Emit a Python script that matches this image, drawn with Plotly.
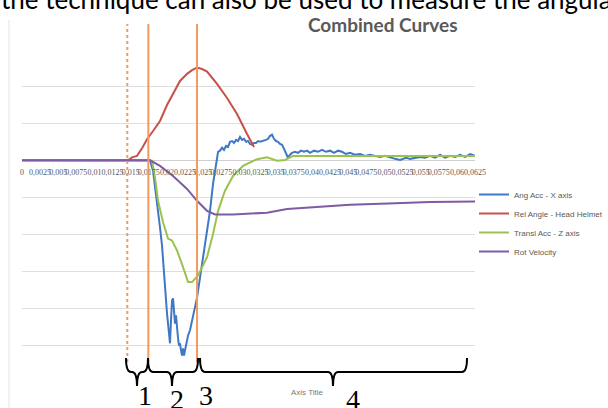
import plotly.graph_objects as go

# ---------------- data (time in seconds) ----------------
t_ang = [0.0, 0.01766, 0.01808, 0.01835, 0.01863, 0.01904, 0.01932, 0.01946, 0.01973, 0.02001,
         0.02015, 0.02029, 0.02042, 0.02056, 0.0207, 0.02084, 0.02098, 0.02111, 0.02125, 0.02139,
         0.02153, 0.02166, 0.0218, 0.02194, 0.02208, 0.02222, 0.02235, 0.02249, 0.02263, 0.02277,
         0.02291, 0.02318, 0.02346, 0.0236, 0.02387, 0.02415, 0.02456, 0.02498, 0.02553, 0.02594,
         0.02636, 0.02663, 0.02677, 0.02691, 0.02705, 0.02732, 0.0276, 0.02787, 0.02815, 0.02842,
         0.0287, 0.02898, 0.02925, 0.02953, 0.0298, 0.03008, 0.03036, 0.03063, 0.03091, 0.03118,
         0.03146, 0.03174, 0.03201, 0.03229, 0.03256, 0.03284, 0.03326, 0.03367, 0.03395, 0.03422,
         0.0345, 0.03477, 0.03505, 0.03532, 0.0356, 0.03588, 0.03615, 0.03643, 0.0367, 0.03698,
         0.03726, 0.03767, 0.03808, 0.0385, 0.03891, 0.03933, 0.03974, 0.04029, 0.04084, 0.04139,
         0.04195, 0.0425, 0.04305, 0.0436, 0.04415, 0.0447, 0.04526, 0.04595, 0.04664, 0.04733,
         0.04802, 0.04871, 0.0494, 0.05009, 0.05078, 0.05147, 0.05216, 0.05257, 0.05299, 0.05354,
         0.05423, 0.05492, 0.05561, 0.0563, 0.05699, 0.05768, 0.05837, 0.05906, 0.05975, 0.06044,
         0.06113, 0.06182, 0.06251]
ang_acc = [0.0, 0.0, -0.28, -0.69, -1.09, -1.81, -2.30, -2.70, -3.51, -4.13,
           -4.40, -4.72, -4.93, -4.31, -3.78, -3.72, -4.05, -4.40, -4.18, -4.58,
           -4.80, -4.99, -4.93, -5.12, -5.26, -5.07, -5.26, -5.12, -4.99, -4.93,
           -4.72, -4.58, -4.31, -4.13, -3.91, -3.70, -3.16, -2.62, -1.98, -1.36,
           -0.63, -0.28, -0.01, 0.09, 0.23, 0.26, 0.34, 0.28, 0.39, 0.36,
           0.50, 0.52, 0.47, 0.55, 0.52, 0.63, 0.55, 0.58, 0.50, 0.52,
           0.44, 0.42, 0.47, 0.47, 0.52, 0.50, 0.52, 0.55, 0.58, 0.66,
           0.69, 0.58, 0.52, 0.50, 0.44, 0.42, 0.31, 0.17, 0.07, 0.15,
           0.20, 0.23, 0.20, 0.26, 0.23, 0.26, 0.20, 0.26, 0.23, 0.28,
           0.23, 0.26, 0.20, 0.26, 0.23, 0.17, 0.20, 0.15, 0.17, 0.12,
           0.15, 0.12, 0.09, 0.12, 0.07, 0.04, 0.01, 0.04, 0.07, 0.04,
           0.07, 0.09, 0.07, 0.12, 0.07, 0.15, 0.07, 0.12, 0.09, 0.15,
           0.09, 0.17, 0.12]

t_rel = [0.0, 0.01463, 0.01518, 0.01587, 0.0166, 0.01725, 0.01808, 0.01904, 0.02001, 0.02084,
         0.0218, 0.02277, 0.02346, 0.02415, 0.02484, 0.02553, 0.02622, 0.02691, 0.02829, 0.02967,
         0.03105, 0.03202]
rel_angle = [0.0, 0.0, 0.08, 0.12, 0.34, 0.57, 0.79, 1.06, 1.49, 1.81,
             2.14, 2.33, 2.43, 2.50, 2.46, 2.39, 2.24, 2.06, 1.68, 1.25,
             0.71, 0.36]

t_transl = [0.0, 0.01766, 0.01794, 0.01835, 0.01877, 0.01946, 0.02015, 0.0207, 0.02139, 0.02222,
            0.02291, 0.02346, 0.02429, 0.02553, 0.02636, 0.02705, 0.02801, 0.02912, 0.0305, 0.03243,
            0.03381, 0.03519, 0.03629, 0.0374, 0.0401, 0.0456, 0.051, 0.0565, 0.0625]
transl_acc = [0.0, 0.0, -0.01, -0.46, -1.09, -1.67, -2.11, -2.16, -2.43, -2.88,
              -3.28, -3.28, -3.10, -2.61, -1.98, -1.36, -0.82, -0.42, -0.15, 0.03,
              0.08, -0.01, 0.01, 0.12, 0.12, 0.13, 0.12, 0.11, 0.12]

t_rot = [0.0, 0.01766, 0.01904, 0.02084, 0.02277, 0.02415, 0.02553, 0.02663, 0.02912, 0.03381,
         0.03657, 0.04071, 0.04526, 0.05051, 0.0563, 0.0625]
rot_velocity = [0.0, 0.0, -0.15, -0.42, -0.77, -1.09, -1.36, -1.46, -1.46, -1.41,
                -1.31, -1.25, -1.20, -1.16, -1.12, -1.11]

series_names = ["Ang Acc - X axis", "Rel Angle - Head Helmet", "Transl Acc - Z axis", "Rot Velocity"]
series_colors = ["#3f78c3", "#c8504a", "#9bc24f", "#7f5ba6"]

tick_vals = [i * 0.0025 for i in range(26)]
tick_text = ["0"] + [("%g" % v).replace(".", ",") for v in tick_vals[1:]]

phase_bounds = [0.01453, 0.01743, 0.02415]
phase_labels = ["1", "2", "3", "4"]

# ---------------- figure ----------------
W, H = 608, 408
L, R, T, B = 22, 133, 49, 25
PW, PH = W - L - R, H - T - B
YMIN, YMAX = -6, 3
XMAX = 0.0625


def px_x(px):
    return (px - L) / PW


def px_y(py):
    return (H - B - py) / PH


fig = go.Figure()
data = [(t_ang, ang_acc), (t_rel, rel_angle), (t_transl, transl_acc), (t_rot, rot_velocity)]
for i, ((tx, vy), name, col) in enumerate(zip(data, series_names, series_colors)):
    fig.add_trace(go.Scatter(x=tx, y=vy, mode="lines", name=name,
                             line=dict(color=col, width=2), legendgroup=str(i)))

shapes = []
# chart left border
shapes.append(dict(type="line", xref="paper", yref="paper", x0=px_x(9), x1=px_x(9),
                   y0=px_y(20), y1=px_y(408), line=dict(color="#e3e3e3", width=1)))
# orange phase lines
for i, tb in enumerate(phase_bounds):
    shapes.append(dict(type="line", xref="x", yref="paper", x0=tb, x1=tb,
                       y0=px_y(362), y1=px_y(24),
                       line=dict(color="#f29a5e", width=2, dash="dot" if i == 0 else "solid")))


def brace(x0, x1, xm, top=358, mid=372, tip=386, r=5):
    dx = r / PW * XMAX
    yt, ym, yp = px_y(top), px_y(mid), px_y(tip)
    return (f"M {x0},{yt} Q {x0},{ym} {x0+dx},{ym} L {xm-dx},{ym} "
            f"Q {xm},{ym} {xm},{yp} Q {xm},{ym} {xm+dx},{ym} L {x1-dx},{ym} "
            f"Q {x1},{ym} {x1},{yt}")


t_of = lambda px: (px - L) / PW * XMAX
brace_specs = [(t_of(126), t_of(148), t_of(137)),
               (t_of(148), t_of(198), t_of(172)),
               (t_of(200), t_of(467), t_of(333))]
for x0, x1, xm in brace_specs:
    shapes.append(dict(type="path", xref="x", yref="paper", path=brace(x0, x1, xm),
                       line=dict(color="black", width=2)))

annotations = [
    dict(text="the technique can also be used to measure the angular", x=px_x(-1), y=px_y(17),
         xref="paper", yref="paper", xanchor="left", yanchor="bottom", showarrow=False,
         font=dict(family="Lato", size=26, color="black")),
    dict(text="<b>Combined Curves</b>", x=px_x(383), y=px_y(24.5), xref="paper", yref="paper",
         xanchor="center", yanchor="middle", showarrow=False,
         font=dict(family="Lato", size=19, color="#595959")),
    dict(text="Axis Title", x=px_x(307), y=px_y(393), xref="paper", yref="paper",
         xanchor="center", yanchor="middle", showarrow=False,
         font=dict(family="Liberation Sans", size=8, color="#7a7a7a")),
]
lab_pos = [(145, 395), (177, 399), (206, 395), (353, 399)]
for lab, (lx, ly) in zip(phase_labels, lab_pos):
    annotations.append(dict(text=lab, x=px_x(lx), y=px_y(ly), xref="paper", yref="paper",
                            xanchor="center", yanchor="middle", showarrow=False,
                            font=dict(family="Liberation Serif", size=28, color="black")))

fig.update_layout(
    width=W, height=H,
    margin=dict(l=L, r=R, t=T, b=B, autoexpand=False),
    paper_bgcolor="white", plot_bgcolor="white",
    showlegend=True,
    legend=dict(x=px_x(474), y=px_y(180), xanchor="left", yanchor="top",
                font=dict(family="Liberation Sans", size=8, color="#595959"),
                tracegroupgap=0, bgcolor="rgba(0,0,0,0)"),
    xaxis=dict(range=[0, XMAX], tickvals=tick_vals, ticktext=tick_text, showgrid=False,
               zeroline=False, showline=False, ticks="", anchor="free",
               position=(0 - YMIN) / (YMAX - YMIN), ticklabelstandoff=6,
               tickangle=0, tickfont=dict(family="Liberation Serif", size=8, color="#595959")),
    yaxis=dict(range=[YMIN, YMAX], dtick=1, showticklabels=False, gridcolor="#dedede",
               gridwidth=1, zeroline=True, zerolinecolor="#d0d0d0", zerolinewidth=1),
    shapes=shapes, annotations=annotations,
)

fig.write_html("out.html", config={"displayModeBar": False},
               post_script="document.body.style.margin='0px';")
